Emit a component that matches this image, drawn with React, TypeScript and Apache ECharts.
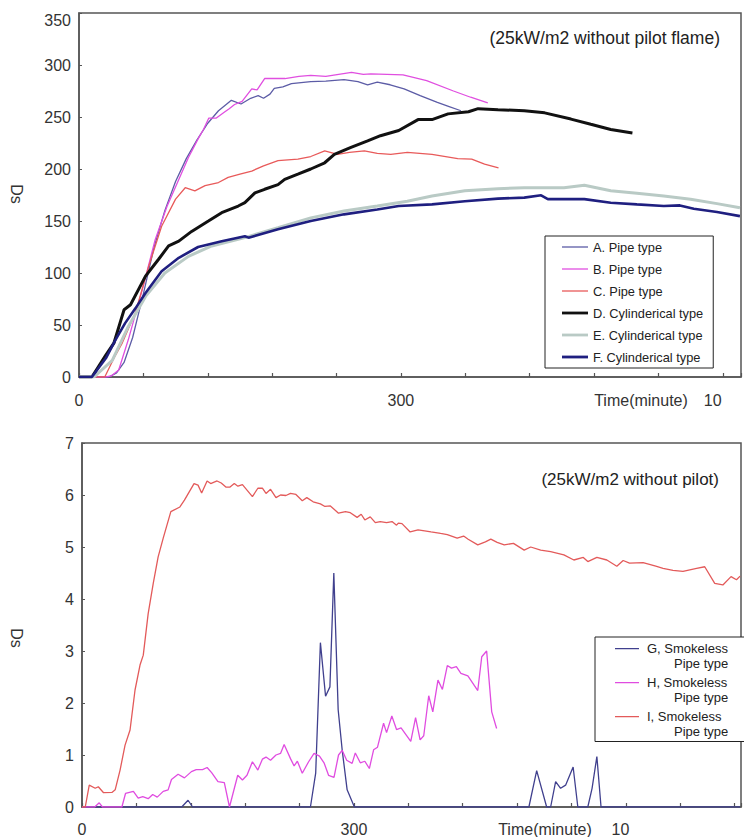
import React, { useEffect, useRef } from "react";
import * as echarts from "echarts";

const FONT = '"Liberation Sans", Arial, sans-serif';

// ---- Top chart (time in seconds, Ds) ----
const topNames = [
  "A. Pipe type",
  "B. Pipe type",
  "C. Pipe type",
  "D. Cylinderical type",
  "E. Cylinderical type",
  "F. Cylinderical type",
];

const seriesA: [number, number][] = [
  [0, 0], [28, 0], [35, 4], [42, 14], [50, 38], [60, 80], [70, 125], [80, 160], [90, 188],
  [100, 210], [110, 228], [120, 244], [130, 256], [142, 266], [151, 262.5], [160, 268],
  [167, 270.5], [172, 268], [178, 272], [182, 277.5], [190, 279], [198, 282], [216, 284],
  [230, 284.5], [247, 286], [260, 284], [269, 281], [278, 283.5], [290, 281], [303, 277],
  [318, 270.5], [334, 264], [345, 260], [356, 256],
];

const seriesB: [number, number][] = [
  [0, 0], [25, 0], [30, 1], [37, 6.7], [46, 36], [59, 84], [71, 132], [82, 164], [93, 190],
  [102, 211], [111, 229], [116, 238], [121, 249], [128, 249], [136, 255], [140, 258],
  [145, 262], [152, 265], [161, 277], [166, 276], [173, 287], [192, 287], [205, 289],
  [216, 290], [230, 289], [242, 291], [254, 293], [265, 291], [272, 291.5], [287, 291],
  [302, 290.5], [324, 285], [349, 275], [365, 269], [381, 263.5],
];

const seriesC: [number, number][] = [
  [0, 0], [24, 0], [33, 19], [40, 32], [52.6, 62], [65, 106.5], [77, 145], [90, 171],
  [99, 182], [108, 179], [117.5, 184], [130, 187], [139, 192], [150, 195], [161, 198],
  [172, 203], [185.5, 208], [204, 209.5], [216, 212], [229, 217.5], [241, 214],
  [252, 216], [266, 217.5], [278, 215], [290.6, 214], [306, 216], [329, 214], [353, 210],
  [366, 209.5], [378, 204.6], [391, 201],
];

const seriesD: [number, number][] = [
  [0, 0], [12, 0], [25, 21], [32.5, 32.5], [42, 64.7], [48, 69.5], [62, 97], [74, 113],
  [83.5, 126], [93, 130.6], [105, 140], [120.6, 150], [133, 158], [148.4, 164.4],
  [154.6, 167.6], [164, 177], [173, 180.5], [185.5, 185], [191.7, 190], [204, 195],
  [216, 200], [229, 206], [238, 214], [253.5, 220.7], [269, 227], [281, 232], [298, 237],
  [316, 247.5], [329, 247.5], [344, 253], [363, 255], [372, 258], [390.5, 257], [415, 256],
  [434, 254], [458.5, 248], [477, 243], [495.6, 238], [515.8, 234.6],
];

const seriesE: [number, number][] = [
  [0, 0], [14, 0], [31, 16], [46, 48.6], [62, 77.5], [80, 100], [102, 116], [123.7, 126],
  [154.6, 134], [185.5, 143.5], [216, 153], [247, 159.6], [278, 164.4], [306, 169],
  [329, 174], [359.6, 179], [390.5, 181], [415, 182], [430.7, 182], [452, 182],
  [471, 184.4], [495.6, 179], [520, 176.6], [545, 174], [570, 171], [594.6, 166.7],
  [616, 162.8],
];

const seriesF: [number, number][] = [
  [0, 0], [12, 0], [25, 18], [34, 35.7], [43, 51.8], [52.6, 66], [62, 80.8], [77, 101.6],
  [93, 114.6], [111, 125], [133, 130.6], [154.6, 135.4], [158, 134], [185.5, 142],
  [216, 150], [247, 156.4], [278, 161], [298, 164.4], [329, 166], [359.6, 169],
  [390.5, 171.5], [415, 172.5], [430.7, 174.7], [437, 171], [471, 171], [495.6, 167.6],
  [520, 166], [545, 164.4], [560, 165], [573, 161.8], [594.6, 158.6], [616, 154.7],
];

// ---- Bottom chart ----
const bottomNames = [
  "G, Smokeless Pipe type",
  "H, Smokeless Pipe type",
  "I, Smokeless Pipe type",
];

const seriesG: [number, number][] = [
  [0, 0], [110, 0], [117, 0.13], [122, 0], [252, 0], [257.8, 0.65], [263, 3.16],
  [268.7, 2.13], [273.5, 2.31], [277.8, 4.5], [282.6, 1.87], [287, 1.1], [292.5, 0.33],
  [300.5, 0], [493, 0], [501.6, 0.7], [512.6, 0], [517, 0], [522.5, 0.49], [528, 0.36],
  [533.5, 0.42], [541.8, 0.77], [547, 0], [558, 0], [562.7, 0.36], [568, 0.97],
  [572.6, 0], [726, 0],
];

const seriesH: [number, number][] = [
  [0, 0], [14, 0], [19, 0.08], [22.6, 0], [44, 0], [48, 0.26], [56.7, 0.3], [62, 0.17],
  [67, 0.2], [73, 0.16], [78, 0.24], [83, 0.19], [89.6, 0.3], [95, 0.33], [98.7, 0.53],
  [106, 0.63], [113, 0.56], [120.7, 0.68], [126, 0.72], [133, 0.72], [138, 0.76],
  [143, 0.66], [150, 0.49], [157, 0.47], [162.7, 0], [171.8, 0.61], [177, 0.52],
  [182, 0.61], [188, 0.87], [194, 0.71], [199, 0.92], [203, 0.96], [208, 0.9], [214, 1.0],
  [219, 1.03], [223, 1.2], [230, 0.93], [234, 0.79], [237.6, 0.88], [243, 0.65],
  [250, 0.87], [256, 1.03], [262, 0.98], [267, 0.85], [272, 0.61], [278, 0.57], [283, 1.0],
  [287, 1.09], [292, 0.9], [298, 0.84], [301.5, 1.04], [307, 0.85], [312, 0.88],
  [317, 0.74], [321.7, 1.1], [326, 1.15], [332.7, 1.61], [336, 1.43], [341.8, 1.75],
  [347, 1.49], [352, 1.52], [362.7, 1.26], [368, 1.72], [373, 1.29], [377, 1.37],
  [382.5, 2.14], [387, 1.83], [392.7, 2.44], [397.6, 2.26], [403, 2.72], [407.6, 2.67],
  [413, 2.7], [418, 2.57], [425.7, 2.52], [436.6, 2.24], [441, 2.89], [446.4, 3.0],
  [452, 1.83], [457.4, 1.51],
];

const seriesI: [number, number][] = [
  [0, 0], [3.6, 0], [8, 0.42], [14.6, 0.36], [18, 0.39], [23.8, 0.275], [33, 0.28],
  [36.6, 0.33], [42, 0.71], [47.5, 1.19], [53, 1.48], [58.5, 2.25], [64, 2.73],
  [67.6, 2.92], [73, 3.72], [78.6, 4.3], [84, 4.81], [89.6, 5.17], [98, 5.68], [108, 5.77],
  [113, 5.9], [123.6, 6.22], [128, 6.19], [132, 6.04], [138, 6.27], [142, 6.22],
  [149, 6.27], [153.6, 6.23], [159, 6.15], [163, 6.15], [168, 6.22], [172, 6.17],
  [177, 6.2], [188, 5.97], [194, 6.13], [199, 6.13], [203, 6.03], [208, 6.11],
  [214, 5.95], [219, 6.0], [225, 5.99], [230, 6.03], [236, 6.01], [243, 5.89],
  [248, 5.95], [255, 5.87], [263, 5.83], [268, 5.78], [274, 5.79], [283, 5.65],
  [290.6, 5.68], [296, 5.66], [303.5, 5.57], [308, 5.63], [312, 5.52], [318, 5.58],
  [323.6, 5.47], [329, 5.49], [336, 5.47], [342, 5.49], [347, 5.42], [349, 5.46],
  [353, 5.45], [362, 5.29], [370.7, 5.33], [378, 5.31], [385, 5.29], [395.6, 5.26],
  [403, 5.24], [413.9, 5.17], [421, 5.21], [426, 5.15], [436.6, 5.04], [445, 5.1],
  [451, 5.15], [458, 5.09], [465.8, 5.04], [476, 5.07], [487.8, 4.94], [495, 5.0],
  [506, 4.94], [517, 4.91], [531.6, 4.85], [542.6, 4.75], [553, 4.8], [558, 4.72],
  [568, 4.8], [579, 4.75], [590, 4.63], [597, 4.74], [604, 4.69], [619, 4.7], [633, 4.63],
  [641, 4.59], [652, 4.55], [663, 4.53], [678, 4.59], [687, 4.62], [698, 4.3], [707, 4.27],
  [716, 4.43], [722, 4.37], [726, 4.44],
];

// tick labels on the x axes
const xLabelValues = [0, 300, 600];
const xLabelTexts = ["0", "300", "10"];

const topColors = ["#5c5ca6", "#e04fe0", "#e85a5a", "#111111", "#b9cac5", "#1f1f80"];
const topWidths = [1.3, 1.3, 1.3, 3, 3, 2.6];
const bottomColors = ["#40408e", "#e04ce0", "#e35a5a"];

export default function App() {
  const ref = useRef<HTMLDivElement>(null);

  useEffect(() => {
    if (!ref.current) return;
    const chart = echarts.init(ref.current, undefined, { renderer: "svg" });

    const axisLineStyle = { color: "#555", width: 1.5 };
    const labelBase = { fontFamily: FONT, fontSize: 16, color: "#333" };

    const xFormatter = (v: number) => {
      const i = xLabelValues.indexOf(v);
      if (i < 0) return "";
      if (v === 600) return "{s|" + xLabelTexts[i] + "}";
      return xLabelTexts[i];
    };

    const topData = [seriesA, seriesB, seriesC, seriesD, seriesE, seriesF];
    const bottomData = [seriesG, seriesH, seriesI];

    const series: any[] = [];
    topData.forEach((d, i) => {
      series.push({
        type: "line",
        name: topNames[i],
        data: d,
        xAxisIndex: 0,
        yAxisIndex: 0,
        showSymbol: false,
        symbol: "none",
        lineStyle: { color: topColors[i], width: topWidths[i] },
        itemStyle: { color: topColors[i] },
        emphasis: { disabled: true },
      });
    });
    bottomData.forEach((d, i) => {
      series.push({
        type: "line",
        name: bottomNames[i],
        data: d,
        xAxisIndex: 1,
        yAxisIndex: 1,
        showSymbol: false,
        symbol: "none",
        lineStyle: { color: bottomColors[i], width: 1.3 },
        itemStyle: { color: bottomColors[i] },
        emphasis: { disabled: true },
      });
    });

    const thin = "path://M0,0H26V1.3H0Z";
    const thick = "path://M0,0H26V2.8H0Z";

    const option: any = {
      animation: false,
      textStyle: { fontFamily: FONT },
      grid: [
        { left: 79, top: 13, width: 666, height: 364, show: true, borderColor: "#555", borderWidth: 1.5 },
        { left: 82, top: 443, width: 663, height: 364, show: true, borderColor: "#555", borderWidth: 1.5 },
      ],
      xAxis: [
        {
          type: "value", gridIndex: 0, min: 0, max: 617, interval: 60,
          axisLine: { show: true, lineStyle: axisLineStyle },
          axisTick: { show: true, inside: true, length: 4, lineStyle: { color: "#555", width: 1.2 } },
          splitLine: { show: false },
          axisLabel: { ...labelBase, margin: 15, formatter: xFormatter, rich: { s: { ...labelBase, padding: [0, 20, 0, 0] } } },
        },
        {
          type: "value", gridIndex: 1, min: 0, max: 727, interval: 60,
          axisLine: { show: true, lineStyle: axisLineStyle },
          axisTick: { show: true, inside: true, length: 4, lineStyle: { color: "#555", width: 1.2 } },
          splitLine: { show: false },
          axisLabel: { ...labelBase, margin: 14, formatter: xFormatter, rich: { s: { ...labelBase, padding: [0, 11, 0, 0] } } },
        },
      ],
      yAxis: [
        {
          type: "value", gridIndex: 0, min: 0, max: 350, interval: 50,
          axisLine: { show: true, lineStyle: axisLineStyle },
          axisTick: { show: true, inside: true, length: 3, lineStyle: { color: "#555" } },
          splitLine: { show: false },
          axisLabel: {
            ...labelBase, margin: 8,
            formatter: (v: number) => (v === 350 ? "{p|350}" : String(v)),
            rich: { p: { ...labelBase, padding: [14, 0, 0, 0] } },
          },
        },
        {
          type: "value", gridIndex: 1, min: 0, max: 7, interval: 1,
          axisLine: { show: true, lineStyle: axisLineStyle },
          axisTick: { show: true, inside: true, length: 3, lineStyle: { color: "#555" } },
          splitLine: { show: false },
          axisLabel: { ...labelBase, margin: 8 },
        },
      ],
      legend: [
        {
          orient: "vertical", left: 545, top: 236,
          data: topNames.map((n, i) => ({ name: n, icon: i >= 3 ? thick : thin })),
          itemWidth: 26, itemHeight: 16, itemGap: 6,
          padding: [3, 10, 3, 17],
          borderColor: "#222", borderWidth: 1, backgroundColor: "#fff",
          selectedMode: false,
          itemStyle: { borderWidth: 0 },
          textStyle: { fontFamily: FONT, fontSize: 12.8, lineHeight: 16, color: "#222" },
        },
        {
          orient: "vertical", left: 595, top: 637,
          data: bottomNames.map((n) => ({ name: n, icon: "path://M0,0H24V1.3H0Z M0,15 L27,15" })),
          itemWidth: 27, itemHeight: 15, itemGap: 4,
          padding: [3.5, 17, 3, 20],
          borderColor: "#222", borderWidth: 1, backgroundColor: "#fff",
          selectedMode: false,
          itemStyle: { borderWidth: 0 },
          formatter: (name: string) => {
            const first = name.split(" Pipe")[0];
            return "{a|" + first + "}\n{b|Pipe type}";
          },
          textStyle: {
            fontFamily: FONT, fontSize: 13, lineHeight: 15, color: "#222",
            rich: {
              a: { fontFamily: FONT, fontSize: 13, lineHeight: 15, color: "#222" },
              b: { fontFamily: FONT, fontSize: 13, lineHeight: 15, color: "#222", padding: [0, 0, 0, 27] },
            },
          },
        },
      ],
      graphic: [
        { type: "text", x: 720, y: 38, style: { text: "(25kW/m2 without pilot flame)", font: "17.5px " + FONT, fill: "#222", align: "right", verticalAlign: "middle" } },
        { type: "text", x: 719, y: 479, style: { text: "(25kW/m2 without pilot)", font: "17px " + FONT, fill: "#222", align: "right", verticalAlign: "middle" } },
        { type: "text", x: 641, y: 400, style: { text: "Time(minute)", font: "16px " + FONT, fill: "#333", align: "center", verticalAlign: "middle" } },
        { type: "text", x: 545, y: 829, style: { text: "Time(minute)", font: "16px " + FONT, fill: "#333", align: "center", verticalAlign: "middle" } },
        { type: "text", x: 16, y: 194, rotation: -Math.PI / 2, style: { text: "Ds", font: "16px " + FONT, fill: "#333", align: "center", verticalAlign: "middle" } },
        { type: "text", x: 16, y: 638, rotation: -Math.PI / 2, style: { text: "Ds", font: "16px " + FONT, fill: "#333", align: "center", verticalAlign: "middle" } },
      ],
      series,
    };

    chart.setOption(option);
    return () => chart.dispose();
  }, []);

  return (
    <div
      ref={ref}
      style={{ position: "fixed", left: 0, top: 0, width: 744, height: 837, background: "#fff" }}
    />
  );
}
